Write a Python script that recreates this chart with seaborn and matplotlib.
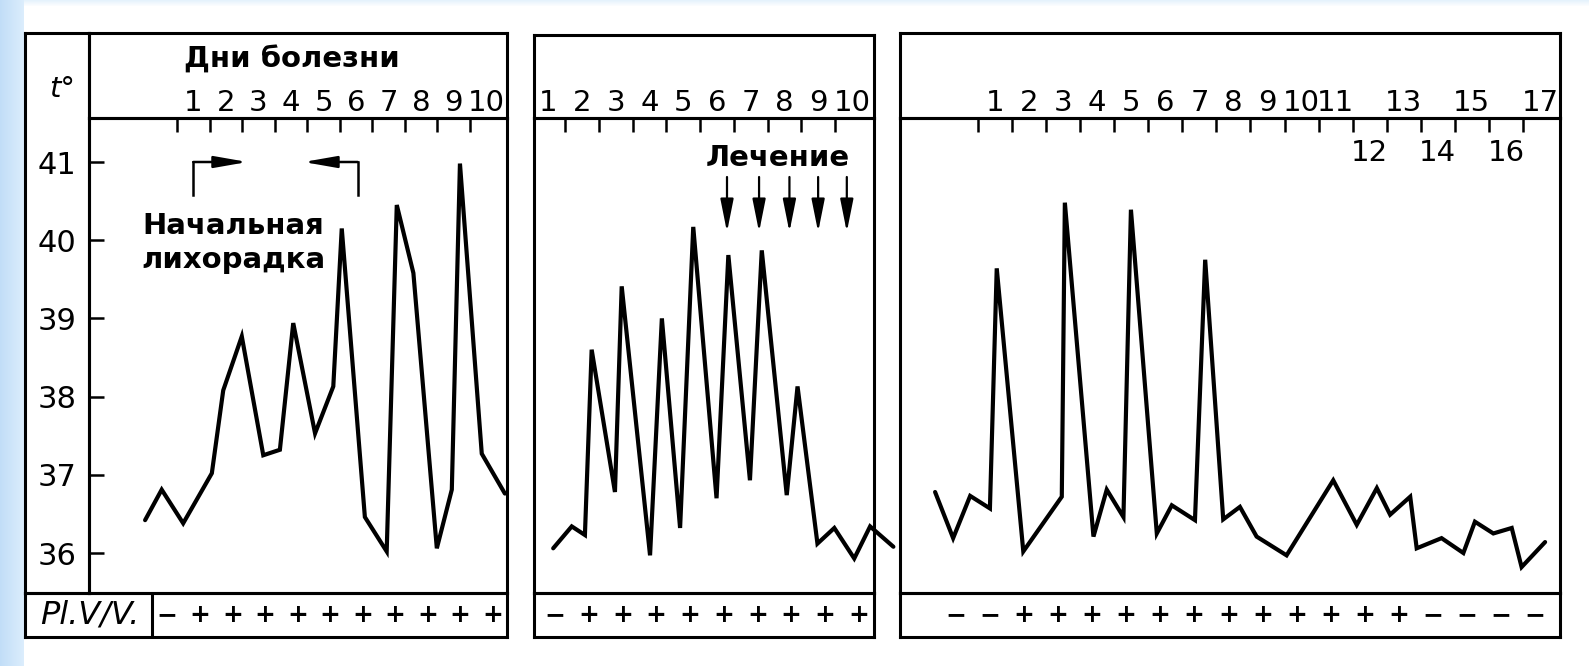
import numpy as np
import matplotlib
matplotlib.use("Agg")
import matplotlib.pyplot as plt
import pandas as pd
import seaborn as sns

# ---------------- data ----------------
# Panel 1: initial fever, days of illness
p1_day = [-0.48, 0.03, 0.69, 1.57, 1.92, 2.49, 3.15, 3.66, 4.07, 4.74, 5.30,
          5.56, 6.27, 6.94, 7.25, 7.76, 8.48, 8.94, 9.19, 9.86, 10.57]
p1_temp = [36.42, 36.81, 36.38, 37.02, 38.08, 38.77, 37.25, 37.32, 38.94, 37.53, 38.13,
           40.15, 36.46, 36.02, 40.45, 39.58, 36.06, 36.81, 40.98, 37.27, 36.76]
p1_labels = [str(d) for d in range(1, 11)]
p1_smear = ["−"] + ["+"] * 10
fever_span = [1.0, 6.05]

# Panel 2: treatment
p2_day = [1.15, 1.70, 2.09, 2.29, 2.98, 3.18, 4.02, 4.37, 4.91, 5.30, 5.99,
          6.34, 6.98, 7.33, 8.07, 8.39, 8.98, 9.48, 10.07, 10.54, 11.23]
p2_temp = [36.06, 36.34, 36.23, 38.60, 36.78, 39.41, 35.97, 39.00, 36.32, 40.17, 36.70,
           39.81, 36.93, 39.87, 36.74, 38.13, 36.12, 36.32, 35.93, 36.34, 36.08]
p2_labels = [str(d) for d in range(1, 11)]
p2_smear = ["−"] + ["+"] * 9
p2_treatment = [6.3, 7.25, 8.15, 9.0, 9.85]

# Panel 3: relapse
p3_day = [-0.76, -0.23, 0.27, 0.85, 1.05, 1.83, 2.96, 3.05, 3.89, 4.28, 4.77,
          4.99, 5.75, 6.19, 6.87, 7.17, 7.70, 8.19, 8.68, 9.56, 10.93, 11.62,
          12.21, 12.60, 13.19, 13.38, 14.11, 14.75, 15.09, 15.63, 16.17, 16.46, 17.15]
p3_temp = [36.78, 36.19, 36.73, 36.57, 39.64, 36.02, 36.72, 40.48, 36.21, 36.81, 36.46,
           40.39, 36.25, 36.61, 36.42, 39.75, 36.43, 36.59, 36.21, 35.97, 36.93, 36.36,
           36.83, 36.49, 36.72, 36.06, 36.19, 36.00, 36.40, 36.25, 36.32, 35.82, 36.14]
p3_labels_top = ["1", "2", "3", "4", "5", "6", "7", "8", "9", "10", "11", "13", "15", "17"]
p3_labels_low = ["12", "14", "16"]
p3_smear = ["−", "−"] + ["+"] * 12 + ["−"] * 4

temp_ticks = [36, 37, 38, 39, 40, 41]

# ---------------- style ----------------
sns.set_style("white")
plt.rcParams["font.family"] = ["DejaVu Sans"]
plt.rcParams["axes.edgecolor"] = "black"
plt.rcParams["text.color"] = "black"
plt.rcParams["xtick.color"] = "black"
plt.rcParams["ytick.color"] = "black"
plt.rcParams["xtick.labelcolor"] = "black"
plt.rcParams["ytick.labelcolor"] = "black"

W, H = 1589, 666
fig = plt.figure(figsize=(W / 100, H / 100), dpi=100, facecolor="white")

LW_BOX = 2.2
LW_CURVE = 3.0
FS_NUM = 21
FS_TXT = 21


def add_ax(l, t, r, b, **kw):
    return fig.add_axes([l / W, 1 - b / H, (r - l) / W, (b - t) / H], **kw)


def py2t(py):
    return 36 + (553 - py) / 78.2


def px2x(px, m):
    a, x0, b = m
    return x0 + (px - a) / b


def style_box(ax):
    ax.set_facecolor("none")
    for s in ax.spines.values():
        s.set_visible(True)
        s.set_linewidth(LW_BOX)
        s.set_color("black")
    ax.set_xticks([])
    ax.set_yticks([])


# background (scan edge tint)
bg = fig.add_axes([0, 0, 1, 1], zorder=-10)
bg.axis("off")
img = np.ones((H, W, 3))
for x in range(24):
    f = x / 23
    c = np.array([0.76, 0.87, 0.97]) * (1 - f) + np.array([0.86, 0.93, 0.99]) * f
    img[:, x, :] = c
for y in range(7):
    f = y / 6
    c = np.array([0.90, 0.95, 0.99]) * (1 - f) + np.array([1, 1, 1]) * f
    img[y, 24:, :] = np.minimum(img[y, 24:, :], c)
bg.imshow(img, aspect="auto", interpolation="bilinear")

HDR_B = 118
PLOT_B = 592.5
BOT_B = 637
YLIM = (py2t(PLOT_B), py2t(HDR_B))


def make_panel(L, T, R, plot_L, m, day, temp, labels_pos, labels, bounds,
               smear, smear_x0, ylabels=False):
    # header
    hdr = add_ax(plot_L, T, R, HDR_B)
    style_box(hdr)
    # main
    ax = add_ax(plot_L, HDR_B, R, PLOT_B)
    df = pd.DataFrame({"day": day, "temp": temp})
    sns.lineplot(data=df, x="day", y="temp", ax=ax, color="black",
                 linewidth=LW_CURVE, sort=False, estimator=None, legend=False)
    for ln in ax.lines:
        ln.set_clip_on(False)
        ln.set_solid_joinstyle("miter")
    ax.set_xlim(px2x(plot_L, m), px2x(R, m))
    ax.set_ylim(*YLIM)
    ax.set_xlabel("")
    ax.set_ylabel("")
    ax.set_facecolor("none")
    for s in ax.spines.values():
        s.set_visible(True)
        s.set_linewidth(LW_BOX)
        s.set_color("black")
    ax.set_xticks(labels_pos, labels=labels)
    ax.tick_params(axis="x", which="major", bottom=False, labelbottom=False,
                   top=True, labeltop=True, length=0, pad=1, labelsize=FS_NUM)
    ax.set_xticks(bounds, minor=True)
    ax.tick_params(axis="x", which="minor", bottom=False, top=True,
                   direction="in", length=10, width=1.8)
    if ylabels:
        ax.set_yticks(temp_ticks, labels=[str(t) for t in temp_ticks])
        ax.tick_params(axis="y", left=True, direction="in", length=11,
                       width=1.8, pad=9, labelsize=22)
    else:
        ax.set_yticks([])
    # bottom row (parasites in blood)
    bot = add_ax(L, PLOT_B, R, BOT_B)
    style_box(bot)
    bot.set_xlim(px2x(L, m), px2x(R, m))
    bot.set_ylim(0, 1)
    for i, s in enumerate(smear):
        bot.text(smear_x0 + i, 0.5, s, ha="center", va="center",
                 fontsize=18, fontweight="bold")
    return ax, bot


# ---------- panel 1 ----------
m1 = (177, 0.5, 32.56)
ax1, bot1 = make_panel(25, 33, 507, 89, m1, p1_day, p1_temp,
                       list(range(1, 11)), p1_labels,
                       [d - 0.5 for d in range(1, 11)],
                       p1_smear, 0.2, ylabels=True)
col = add_ax(25, 33, 89, PLOT_B)
style_box(col)
col.text(0.58, 0.9, "t°", transform=col.transAxes, ha="center", va="center",
         fontsize=21, style="italic")
bot1.axvline(px2x(152, m1), color="black", lw=LW_BOX)
bot1.text(px2x(90, m1), 0.5, "Pl.V/V.", ha="center", va="center",
          fontsize=23, style="italic")
fig.text(292 / W, 1 - 60 / H, "Дни болезни", ha="center", va="center",
         fontsize=FS_TXT, fontweight="bold")

# bracket "initial fever"
fs0, fs1 = fever_span
tip_l = fs0 + 0.33 * (fs1 - fs0)
tip_r = fs1 - 0.33 * (fs1 - fs0)
y_top, y_bot = py2t(162), py2t(195)
arrow_kw = dict(arrowstyle="-|>,head_length=2.0,head_width=0.35",
                mutation_scale=10, lw=1.8, color="black", shrinkA=0, shrinkB=0)
ax1.plot([fs0, fs0], [y_bot, y_top], color="black", lw=1.8,
         solid_capstyle="projecting")
ax1.plot([fs1, fs1], [y_bot, y_top], color="black", lw=1.8,
         solid_capstyle="projecting")
ax1.annotate("", xy=(tip_l, y_top), xytext=(fs0, y_top), arrowprops=arrow_kw)
ax1.annotate("", xy=(tip_r, y_top), xytext=(fs1, y_top), arrowprops=arrow_kw)
ax1.text((fs0 + fs1) / 2 - 1.3, py2t(243), "Начальная\nлихорадка",
         ha="center", va="center", fontsize=FS_TXT, fontweight="bold",
         linespacing=1.3)

# ---------- panel 2 ----------
m2 = (565, 1.5, 33.75)
ax2, bot2 = make_panel(534, 35, 874, 534, m2, p2_day, p2_temp,
                       list(range(1, 11)), p2_labels,
                       [d + 0.5 for d in range(1, 10)],
                       p2_smear, 1.2)
for x in p2_treatment:
    ax2.annotate("", xy=(x, py2t(232)), xytext=(x, py2t(177)),
                 arrowprops=dict(arrowstyle="-|>,head_length=2.0,head_width=0.4",
                                 mutation_scale=10, lw=1.6, color="black",
                                 shrinkA=0, shrinkB=0))
ax2.text(np.mean(p2_treatment) - 0.3, py2t(158), "Лечение", ha="center",
         va="center", fontsize=FS_TXT, fontweight="bold")

# ---------- panel 3 ----------
m3 = (978, 0.5, 34.06)
top_pos = [int(s) for s in p3_labels_top]
ax3, bot3 = make_panel(900, 33, 1560, 900, m3, p3_day, p3_temp,
                       top_pos, p3_labels_top,
                       [d - 0.5 for d in range(1, 18)],
                       p3_smear, -0.15)
for s in p3_labels_low:
    ax3.text(int(s), py2t(153), s, ha="center", va="center", fontsize=FS_NUM)

fig.savefig("out.png", dpi=100, facecolor="white")
